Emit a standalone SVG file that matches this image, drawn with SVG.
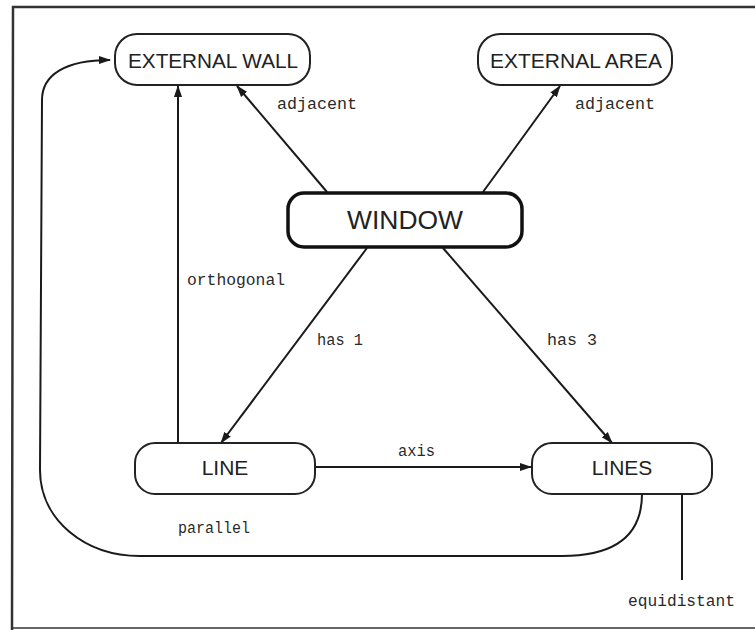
<svg xmlns="http://www.w3.org/2000/svg" width="755" height="630" viewBox="0 0 755 630">
<style>
.node{fill:#fff;stroke:#222;stroke-width:2}
.main{fill:#fff;stroke:#111;stroke-width:3.5}
.nt{font-family:"Liberation Sans",Arial,sans-serif;fill:#222;text-anchor:middle}
.lbl{font-family:"Liberation Mono","DejaVu Sans Mono",monospace;font-size:16px;fill:#2a2a2a}
.c{fill:none;stroke:#1a1a1a;stroke-width:2}
</style>
<defs>
<marker id="ah" markerWidth="12" markerHeight="10" refX="11" refY="5" orient="auto" markerUnits="userSpaceOnUse">
<path d="M0,1 L12,5 L0,9 Z" fill="#1a1a1a"/>
</marker>
</defs>
<rect width="755" height="630" fill="#fff"/>
<g id="frame" fill="none" stroke="#333" stroke-width="2.5">
<path d="M755,7 L13,7 L12,630"/>
<path d="M12,628 L755,628" stroke-width="1.5"/>
</g>
<g id="connectors">
<line class="c" x1="327" y1="192" x2="237" y2="86" marker-end="url(#ah)"/>
<line class="c" x1="483" y1="192" x2="560" y2="86" marker-end="url(#ah)"/>
<line class="c" x1="367" y1="248" x2="221" y2="443" marker-end="url(#ah)"/>
<line class="c" x1="443" y1="248" x2="612" y2="443" marker-end="url(#ah)"/>
<line class="c" x1="178" y1="443" x2="178" y2="86" marker-end="url(#ah)"/>
<line class="c" x1="315" y1="467" x2="531" y2="467" marker-end="url(#ah)"/>
<path class="c" d="M642,494 C642,538 612,556 562,556 L140,556 C85,556 40,520 40,470 L42,100 C42,75 65,60 110,60" marker-end="url(#ah)"/>
<line class="c" x1="682" y1="494" x2="682" y2="580"/>
<text class="lbl" x="277" y="109" textLength="80" lengthAdjust="spacingAndGlyphs">adjacent</text>
<text class="lbl" x="575" y="109" textLength="80" lengthAdjust="spacingAndGlyphs">adjacent</text>
<text class="lbl" x="187" y="285" textLength="98" lengthAdjust="spacingAndGlyphs">orthogonal</text>
<text class="lbl" x="317" y="345" textLength="46" lengthAdjust="spacingAndGlyphs">has 1</text>
<text class="lbl" x="547" y="345" textLength="50" lengthAdjust="spacingAndGlyphs">has 3</text>
<text class="lbl" x="398" y="456" textLength="37" lengthAdjust="spacingAndGlyphs">axis</text>
<text class="lbl" x="178" y="533" textLength="72" lengthAdjust="spacingAndGlyphs">parallel</text>
<text class="lbl" x="628" y="606" textLength="107" lengthAdjust="spacingAndGlyphs">equidistant</text>
</g>
<g id="external-wall">
<rect class="node" x="115" y="34" width="195" height="51" rx="22"/>
<text class="nt" x="213" y="68" font-size="20" textLength="170" lengthAdjust="spacingAndGlyphs">EXTERNAL WALL</text>
</g>
<g id="external-area">
<rect class="node" x="478" y="34" width="194" height="51" rx="22"/>
<text class="nt" x="576" y="68" font-size="20" textLength="172" lengthAdjust="spacingAndGlyphs">EXTERNAL AREA</text>
</g>
<g id="window">
<rect class="main" x="288" y="193" width="234" height="54" rx="16"/>
<text class="nt" x="405" y="229" font-size="26" textLength="116" lengthAdjust="spacingAndGlyphs">WINDOW</text>
</g>
<g id="line">
<rect class="node" x="135" y="443" width="180" height="51" rx="20"/>
<text class="nt" x="225" y="475" font-size="21">LINE</text>
</g>
<g id="lines">
<rect class="node" x="532" y="443" width="180" height="51" rx="20"/>
<text class="nt" x="622" y="475" font-size="21">LINES</text>
</g>
</svg>
